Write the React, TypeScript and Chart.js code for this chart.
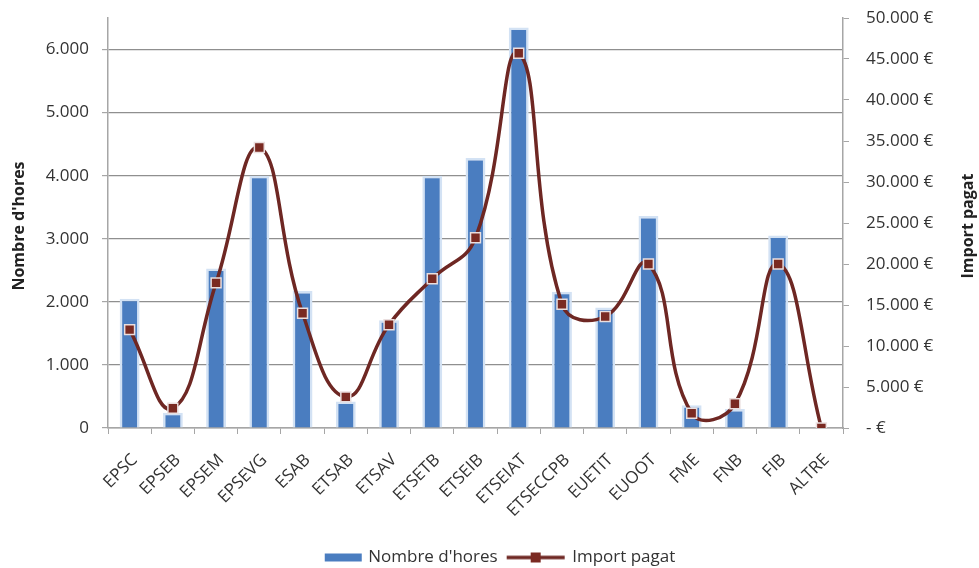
import React, { useEffect, useRef } from "react";
import Chart from "chart.js/auto";

const categories = [
  "EPSC", "EPSEB", "EPSEM", "EPSEVG", "ESAB", "ETSAB", "ETSAV", "ETSETB", "ETSEIB",
  "ETSEIAT", "ETSECCPB", "EUETIT", "EUOOT", "FME", "FNB", "FIB", "ALTRE",
];
const hoursValues = [2050, 240, 2530, 4000, 2170, 420, 1710, 4000, 4280, 6350, 2160, 1910, 3360, 360, 300, 3050, 0];
const paidValues = [12000, 2400, 17700, 34200, 14000, 3800, 12600, 18200, 23200, 45700, 15100, 13600, 20000, 1800, 2950, 20000, 0];
const leftTicks = [0, 1000, 2000, 3000, 4000, 5000, 6000];
const rightTicks = [0, 5000, 10000, 15000, 20000, 25000, 30000, 35000, 40000, 45000, 50000];
const leftTitle = "Nombre d'hores";
const rightTitle = "Import pagat";

const FONT = "'Open Sans', 'DejaVu Sans', sans-serif";
const BAR_FILL = "#4a7dc0";
const BAR_GLOW = "#d3e2f4";
const LINE_COLOR = "#6e2723";
const MARKER_FILL = "#7a2a22";
const AXIS_COLOR = "#a6a6a6";
const GRID_COLOR = "#8f8f8f";
const TEXT_COLOR = "#333333";

function fmtThousands(v: number): string {
  return String(Math.round(v)).replace(/\B(?=(\d{3})+(?!\d))/g, ".");
}

function makeBarSymbol(): HTMLCanvasElement {
  const c = document.createElement("canvas");
  c.width = 62;
  c.height = 10;
  const ctx = c.getContext("2d")!;
  ctx.fillStyle = BAR_FILL;
  ctx.fillRect(24, 1, 37, 8);
  return c;
}

function makeLineSymbol(): HTMLCanvasElement {
  const c = document.createElement("canvas");
  c.width = 62;
  c.height = 12;
  const ctx = c.getContext("2d")!;
  ctx.strokeStyle = LINE_COLOR;
  ctx.lineWidth = 3.5;
  ctx.beginPath();
  ctx.moveTo(2, 6);
  ctx.lineTo(60, 6);
  ctx.stroke();
  ctx.fillStyle = MARKER_FILL;
  ctx.fillRect(26, 1, 10, 10);
  return c;
}

const axisTitlesPlugin = {
  id: "axisTitles",
  afterDraw(chart: any) {
    const { ctx, chartArea } = chart;
    const cy = (chartArea.top + chartArea.bottom) / 2 + 3;
    ctx.save();
    ctx.fillStyle = "#222";
    ctx.font = `bold 16px ${FONT}`;
    ctx.textAlign = "center";
    ctx.textBaseline = "middle";
    const drawRot = (text: string, x: number) => {
      ctx.save();
      ctx.translate(x, cy);
      ctx.rotate(-Math.PI / 2);
      ctx.fillText(text, 0, 0);
      ctx.restore();
    };
    drawRot(leftTitle, 19);
    drawRot(rightTitle, 968);
    ctx.restore();
  },
};

export default function App() {
  const canvasRef = useRef<HTMLCanvasElement | null>(null);

  useEffect(() => {
    const canvas = canvasRef.current;
    if (!canvas) return;
    const barSym = makeBarSymbol();
    const lineSym = makeLineSymbol();
    const PLOT_LEFT = 108;
    const PLOT_RIGHT = 843;
    const PLOT_BOTTOM = 428;
    const W = 979;
    const H = 576;

    const chart = new Chart(canvas, {
      data: {
        labels: categories,
        datasets: [
          {
            type: "line",
            label: "Import pagat",
            data: paidValues,
            yAxisID: "y1",
            order: 0,
            borderColor: LINE_COLOR,
            borderWidth: 3.5,
            tension: 0.45,
            pointStyle: "rect",
            pointRadius: 7,
            pointBackgroundColor: MARKER_FILL,
            pointBorderColor: "#eadede",
            pointBorderWidth: 1.5,
            fill: false,
          },
          {
            type: "bar",
            label: "Nombre d'hores",
            data: hoursValues,
            yAxisID: "y",
            order: 1,
            backgroundColor: BAR_FILL,
            borderColor: BAR_GLOW,
            borderWidth: 2.5,
            borderSkipped: "bottom",
            categoryPercentage: 1,
            barPercentage: 0.46,
          },
        ],
      },
      options: {
        responsive: false,
        animation: false,
        layout: { padding: { top: 18, left: 0, right: 0, bottom: 0 } },
        font: { family: FONT },
        plugins: {
          tooltip: { enabled: false },
          legend: {
            position: "bottom",
            reverse: true,
            labels: {
              usePointStyle: true,
              pointStyleWidth: 56,
              padding: 10,
              color: TEXT_COLOR,
              font: { family: FONT, size: 17 },
              generateLabels: (ch: any) =>
                ch.data.datasets.map((ds: any, i: number) => ({
                  text: ds.label,
                  datasetIndex: i,
                  pointStyle: ds.type === "line" ? lineSym : barSym,
                  fillStyle: "transparent",
                  strokeStyle: "transparent",
                  lineWidth: 0,
                  hidden: false,
                  fontColor: TEXT_COLOR,
                })),
            },
          },
        },
        scales: {
          x: {
            type: "category",
            offset: true,
            grid: {
              offset: true,
              drawOnChartArea: false,
              drawTicks: true,
              tickLength: 6,
              color: AXIS_COLOR,
            },
            border: { color: AXIS_COLOR, width: 1.5 },
            ticks: {
              minRotation: 45,
              maxRotation: 45,
              padding: 16,
              labelOffset: 5,
              color: TEXT_COLOR,
              font: { family: FONT, size: 17 },
              autoSkip: false,
            },
            afterFit: (s: any) => {
              const lh = s.chart.legend ? s.chart.legend.height : 37;
              s.height = H - PLOT_BOTTOM - lh;
              s.paddingLeft = 0;
              s.paddingRight = 0;
            },
          },
          y: {
            type: "linear",
            position: "left",
            min: 0,
            max: 6500,
            afterBuildTicks: (s: any) => {
              s.ticks = leftTicks.map((v) => ({ value: v }));
            },
            grid: {
              color: GRID_COLOR,
              lineWidth: 1.2,
              tickLength: 6,
              tickColor: AXIS_COLOR,
            },
            border: { color: AXIS_COLOR, width: 1.5 },
            ticks: {
              padding: 13,
              color: TEXT_COLOR,
              font: { family: FONT, size: 17 },
              callback: (v: any) => fmtThousands(Number(v)),
            },
            afterFit: (s: any) => {
              s.width = PLOT_LEFT;
              s.paddingTop = 0;
              s.paddingBottom = 0;
            },
          },
          y1: {
            type: "linear",
            position: "right",
            min: 0,
            max: 50000,
            afterBuildTicks: (s: any) => {
              s.ticks = rightTicks.map((v) => ({ value: v }));
            },
            grid: {
              drawOnChartArea: false,
              tickLength: 6,
              color: AXIS_COLOR,
            },
            border: { color: AXIS_COLOR, width: 1.5 },
            ticks: {
              padding: 17,
              color: TEXT_COLOR,
              font: { family: FONT, size: 17 },
              callback: (v: any) => (Number(v) === 0 ? "- €" : fmtThousands(Number(v)) + " €"),
            },
            afterFit: (s: any) => {
              s.width = W - PLOT_RIGHT;
              s.paddingTop = 0;
              s.paddingBottom = 0;
            },
          },
        },
      },
      plugins: [axisTitlesPlugin],
    } as any);

    return () => chart.destroy();
  }, []);

  return (
    <div style={{ position: "fixed", left: 0, top: 0, width: 979, height: 568, overflow: "hidden", background: "#fff" }}>
      <canvas ref={canvasRef} width={979} height={576} style={{ display: "block", width: 979, height: 576 }} />
    </div>
  );
}
